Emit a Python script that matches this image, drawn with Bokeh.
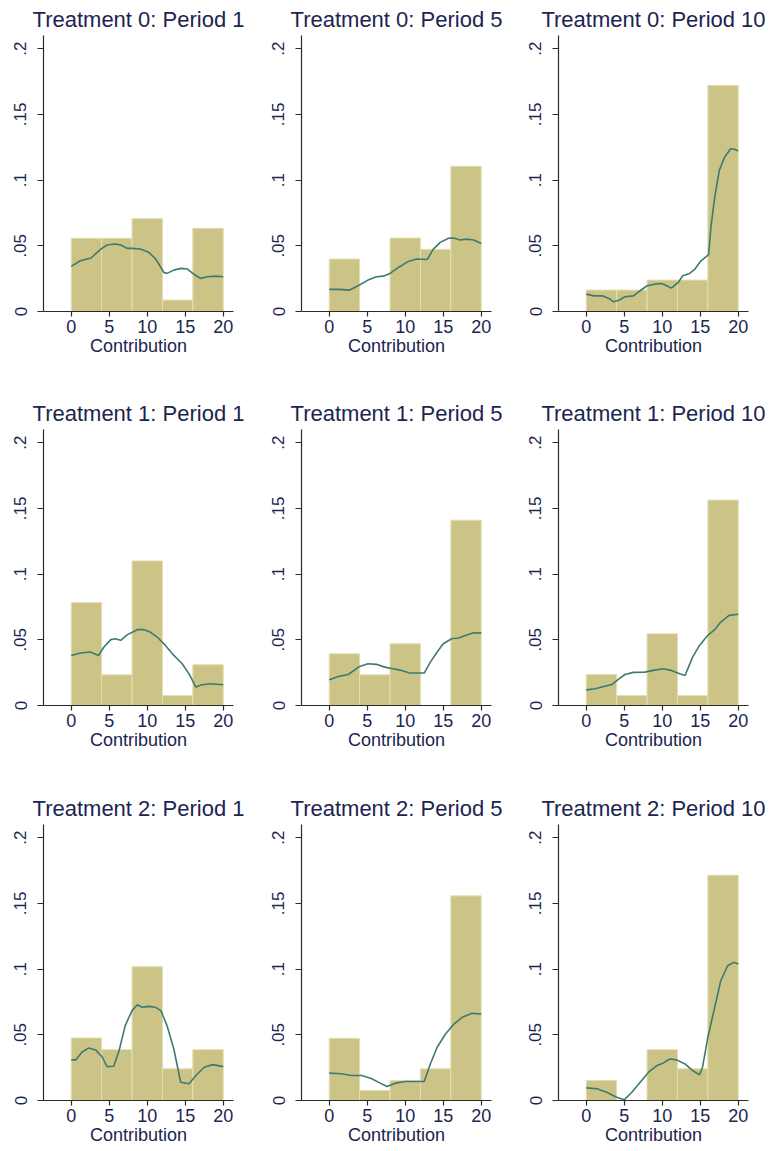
from bokeh.plotting import figure
from bokeh.layouts import column, row
from bokeh.models import FixedTicker
from bokeh.embed import file_html
from bokeh.resources import INLINE

# ---------------- data ----------------
bin_edges = [0, 4, 8, 12, 16, 20]
x_ticks = [0, 5, 10, 15, 20]
y_ticks = [0, 0.05, 0.1, 0.15, 0.2]
y_tick_labels = ["0", ".05", ".1", ".15", ".2"]
treatments = [0, 1, 2]
periods = [1, 5, 10]

# histogram densities (per bin)
t0p1_density = [0.0557, 0.0557, 0.0707, 0.0087, 0.0633]
t0p5_density = [0.0399, 0.0, 0.0559, 0.0473, 0.1105]
t0p10_density = [0.0163, 0.0163, 0.0239, 0.0239, 0.1720]
t1p1_density = [0.0783, 0.0234, 0.1100, 0.0076, 0.0310]
t1p5_density = [0.0394, 0.0234, 0.0470, 0.0, 0.1410]
t1p10_density = [0.0236, 0.0076, 0.0546, 0.0076, 0.1563]
t2p1_density = [0.0476, 0.0387, 0.1018, 0.0241, 0.0387]
t2p5_density = [0.0473, 0.0076, 0.0152, 0.0241, 0.1557]
t2p10_density = [0.0152, 0.0, 0.0387, 0.0241, 0.1714]

# kernel density curves
t0p1_kx = [0, 1.2, 2.6, 3.9, 4.7, 5.8, 6.5, 7.4, 8.0, 9.1, 10.2, 11.1, 12.2, 12.6, 13.5, 14.4, 15.3, 16.1, 17.0, 17.9, 19.0, 20.0]
t0p1_ky = [0.0343, 0.0386, 0.0407, 0.0475, 0.0506, 0.0513, 0.0506, 0.0480, 0.0480, 0.0475, 0.0450, 0.0400, 0.0297, 0.0290, 0.0315, 0.0328, 0.0323, 0.0285, 0.0252, 0.0264, 0.0269, 0.0264]

t0p5_kx = [0, 1.2, 2.7, 3.8, 5.1, 6.2, 7.1, 8.0, 9.1, 10.4, 11.5, 12.9, 13.7, 14.6, 15.7, 16.4, 17.2, 18.1, 19.0, 20.0]
t0p5_ky = [0.0168, 0.0168, 0.0163, 0.0196, 0.0239, 0.0264, 0.0269, 0.0290, 0.0335, 0.0381, 0.0399, 0.0396, 0.0475, 0.0526, 0.0557, 0.0559, 0.0544, 0.0551, 0.0544, 0.0518]

t0p10_kx = [0, 1.0, 2.1, 3.0, 3.6, 4.3, 5.1, 6.2, 7.1, 8.0, 9.0, 9.9, 10.6, 11.2, 12.1, 12.7, 13.6, 14.3, 15.1, 16.1, 16.4, 16.9, 17.5, 18.2, 19.0, 19.6, 20.0]
t0p10_ky = [0.0132, 0.0119, 0.0119, 0.0099, 0.0074, 0.0086, 0.0112, 0.0119, 0.0158, 0.0196, 0.0208, 0.0213, 0.0196, 0.0178, 0.0221, 0.0272, 0.0290, 0.0323, 0.0386, 0.0432, 0.0640, 0.0869, 0.1072, 0.1174, 0.1238, 0.1233, 0.1220]

t1p1_kx = [0, 1.2, 2.5, 3.6, 4.3, 5.2, 5.8, 6.5, 7.4, 8.7, 9.6, 10.4, 11.3, 12.4, 13.5, 14.6, 15.5, 16.4, 17.2, 18.3, 20.0]
t1p1_ky = [0.0381, 0.0399, 0.0407, 0.0381, 0.0445, 0.0501, 0.0508, 0.0496, 0.0539, 0.0577, 0.0577, 0.0559, 0.0521, 0.0457, 0.0381, 0.0318, 0.0241, 0.0140, 0.0158, 0.0165, 0.0158]

t1p5_kx = [0, 1.2, 2.5, 4.0, 5.1, 6.2, 7.3, 8.4, 9.5, 10.6, 11.5, 12.5, 13.3, 14.2, 15.0, 16.1, 17.0, 18.0, 19.0, 20.0]
t1p5_ky = [0.0196, 0.0221, 0.0236, 0.0297, 0.0318, 0.0313, 0.0292, 0.0280, 0.0267, 0.0247, 0.0247, 0.0247, 0.0330, 0.0407, 0.0470, 0.0508, 0.0513, 0.0534, 0.0554, 0.0551]

t1p10_kx = [0, 1.2, 2.3, 3.4, 4.3, 5.1, 6.2, 7.7, 8.8, 10.1, 11.2, 12.3, 13.0, 14.0, 14.9, 16.0, 16.9, 17.7, 18.8, 20.0]
t1p10_ky = [0.0119, 0.0127, 0.0145, 0.0160, 0.0203, 0.0236, 0.0252, 0.0254, 0.0267, 0.0280, 0.0267, 0.0241, 0.0229, 0.0368, 0.0457, 0.0534, 0.0577, 0.0635, 0.0686, 0.0694]

t2p1_kx = [0, 0.6, 1.4, 2.3, 3.2, 4.1, 4.7, 5.6, 6.3, 7.1, 8.0, 8.7, 9.3, 10.2, 11.1, 11.8, 12.6, 13.5, 14.4, 15.5, 16.4, 17.5, 18.6, 20.0]
t2p1_ky = [0.0309, 0.0309, 0.0367, 0.0400, 0.0385, 0.0329, 0.0258, 0.0261, 0.0380, 0.0570, 0.0684, 0.0729, 0.0709, 0.0716, 0.0709, 0.0684, 0.0570, 0.0392, 0.0139, 0.0127, 0.0190, 0.0253, 0.0273, 0.0258]

t2p5_kx = [0, 1.6, 2.9, 4.3, 5.6, 6.7, 7.6, 8.7, 10.0, 11.3, 12.5, 13.3, 14.2, 15.3, 16.4, 17.5, 18.8, 20.0]
t2p5_ky = [0.0208, 0.0203, 0.0190, 0.0190, 0.0165, 0.0132, 0.0106, 0.0132, 0.0144, 0.0144, 0.0144, 0.0278, 0.0405, 0.0506, 0.0582, 0.0633, 0.0663, 0.0658]

t2p10_kx = [0, 1.4, 2.7, 4.0, 5.0, 6.0, 7.1, 8.2, 9.3, 10.1, 11.0, 11.9, 13.0, 14.0, 14.9, 15.3, 16.0, 16.9, 17.7, 18.6, 19.4, 20.0]
t2p10_ky = [0.0096, 0.0089, 0.0063, 0.0025, 0.0005, 0.0063, 0.0139, 0.0215, 0.0266, 0.0284, 0.0316, 0.0309, 0.0278, 0.0228, 0.0195, 0.0253, 0.0481, 0.0709, 0.0911, 0.1025, 0.1051, 0.1038]

panel_data = [
    [(t0p1_density, t0p1_kx, t0p1_ky), (t0p5_density, t0p5_kx, t0p5_ky), (t0p10_density, t0p10_kx, t0p10_ky)],
    [(t1p1_density, t1p1_kx, t1p1_ky), (t1p5_density, t1p5_kx, t1p5_ky), (t1p10_density, t1p10_kx, t1p10_ky)],
    [(t2p1_density, t2p1_kx, t2p1_ky), (t2p5_density, t2p5_kx, t2p5_ky), (t2p10_density, t2p10_kx, t2p10_ky)],
]

# ---------------- style ----------------
FONT = "Liberation Sans"
TEXT_COLOR = "#1c2550"
AXIS_COLOR = "#2b2b2b"
BAR_FILL = "#CBC486"
BAR_LINE = "#E3DFB2"
KDE_COLOR = "#3F7A70"

col_geom = [(263, 43, 30), (257, 38, 29), (250, 38, 22)]   # width, left, right
row_geom = [(395, 35, 84), (395, 34, 85), (360, 34, 50)]   # height, top, bottom


def make_panel(title, dens, kx, ky, cg, rg):
    w, bl, br = cg
    h, bt, bb = rg
    p = figure(width=w, height=h, x_range=(-3.65, 21.35), y_range=(0, 0.21),
               output_backend="svg", toolbar_location=None, tools="",
               min_border_left=bl, min_border_right=br,
               min_border_top=bt, min_border_bottom=bb)
    p.title.text = title
    p.title.align = "center"
    p.title.text_font = FONT
    p.title.text_font_size = "22px"
    p.title.text_font_style = "normal"
    p.title.text_color = TEXT_COLOR
    p.title.standoff = 7

    p.quad(left=bin_edges[:-1], right=bin_edges[1:], bottom=0, top=dens,
           fill_color=BAR_FILL, line_color=BAR_LINE, line_width=1)
    p.line(kx, ky, line_color=KDE_COLOR, line_width=1.6)

    p.xgrid.visible = False
    p.ygrid.visible = False
    p.outline_line_color = None
    p.background_fill_color = "white"
    p.border_fill_color = "white"

    for ax in (p.xaxis[0], p.yaxis[0]):
        ax.axis_line_color = AXIS_COLOR
        ax.axis_line_width = 1.2
        ax.major_tick_line_color = AXIS_COLOR
        ax.major_tick_line_width = 1.2
        ax.major_tick_in = 0
        ax.minor_tick_out = 0
        ax.minor_tick_in = 0
        ax.major_label_text_font = FONT
        ax.major_label_text_color = TEXT_COLOR

    xa = p.xaxis[0]
    xa.ticker = FixedTicker(ticks=x_ticks)
    xa.major_tick_out = 5
    xa.major_label_standoff = 3
    xa.major_label_text_font_size = "18px"
    xa.axis_label = "Contribution"
    xa.axis_label_standoff = 0
    xa.axis_label_text_font = FONT
    xa.axis_label_text_font_size = "18px"
    xa.axis_label_text_font_style = "normal"
    xa.axis_label_text_color = TEXT_COLOR

    ya = p.yaxis[0]
    ya.ticker = FixedTicker(ticks=y_ticks)
    ya.major_label_overrides = {t: l for t, l in zip(y_ticks, y_tick_labels)}
    ya.major_label_orientation = "vertical"
    ya.major_label_text_font_size = "17px"
    ya.major_tick_out = 6
    ya.major_label_standoff = 11
    return p


rows = []
for i, t in enumerate(treatments):
    figs = []
    for j, per in enumerate(periods):
        dens, kx, ky = panel_data[i][j]
        figs.append(make_panel(f"Treatment {t}: Period {per}", dens, kx, ky,
                               col_geom[j], row_geom[i]))
    rows.append(row(*figs))

layout = column(*rows)
open("out.html", "w").write(file_html(layout, INLINE))
